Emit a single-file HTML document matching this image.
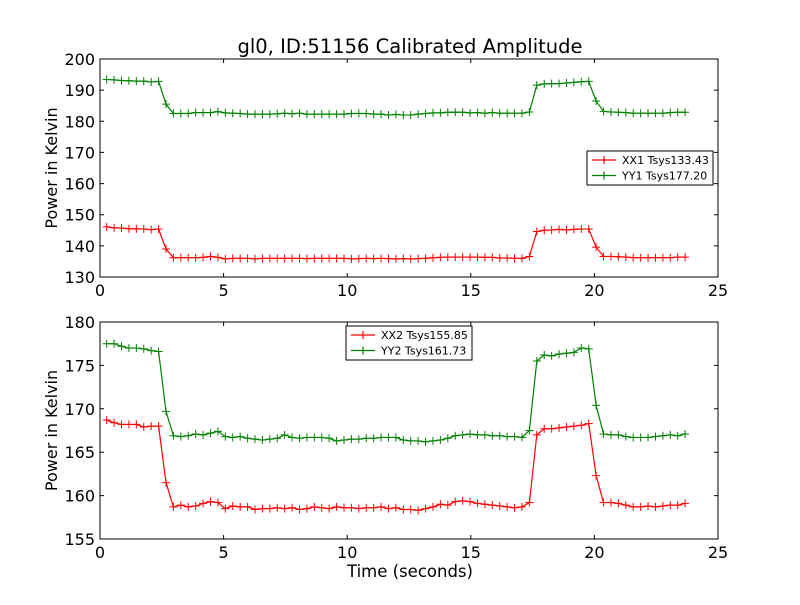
<!DOCTYPE html>
<html><head><meta charset="utf-8"><style>
body{margin:0;background:#fff;}
svg text{font-family:"DejaVu Sans","Liberation Sans",sans-serif;}
</style></head><body>
<svg id="fig" width="800" height="600" xmlns="http://www.w3.org/2000/svg">
<rect width="800" height="600" fill="#fff"/>
<text x="410" y="53" font-size="19.5" text-anchor="middle">gl0, ID:51156 Calibrated Amplitude</text>
<text x="410" y="577" font-size="16.5" text-anchor="middle">Time (seconds)</text>
</svg>
<script>
const t0 = 0.27, dt = 0.3;
const yy1 = [193.4,193.3,193.1,193.0,192.9,192.9,192.6,192.8,185.5,
182.5,182.5,182.5,182.8,182.8,182.8,183.1,182.7,182.6,182.5,182.3,182.3,182.3,182.3,182.4,182.6,182.4,182.6,182.3,182.3,182.3,182.3,182.3,182.3,182.5,182.5,182.5,182.3,182.3,182.0,182.2,182.0,182.0,182.3,182.5,182.7,182.7,182.9,182.9,182.9,182.7,182.8,182.6,182.8,182.6,182.6,182.6,182.6,183.0,
191.6,192.0,192.1,192.1,192.3,192.5,192.7,192.8,186.5,
183.2,183.0,182.9,182.8,182.6,182.6,182.6,182.6,182.6,182.8,182.9,182.9];
const xx1 = [146.1,145.8,145.7,145.5,145.5,145.4,145.2,145.4,139.0,
136.2,136.2,136.2,136.2,136.3,136.6,136.3,135.8,136.0,136.0,136.0,135.8,136.0,136.0,136.0,136.0,136.0,136.0,135.9,136.0,136.0,136.0,136.0,136.0,135.8,135.9,136.0,135.9,136.0,135.9,135.8,135.9,135.8,135.9,136.0,136.2,136.3,136.4,136.4,136.4,136.4,136.4,136.3,136.3,136.1,136.1,136.0,136.0,136.6,
144.6,145.0,145.1,145.3,145.1,145.3,145.4,145.4,139.6,
136.6,136.6,136.5,136.4,136.2,136.2,136.2,136.2,136.2,136.2,136.4,136.4];
const yy2 = [177.5,177.5,177.2,177.0,177.0,176.9,176.7,176.6,169.7,
166.9,166.8,166.9,167.1,167.0,167.2,167.4,166.8,166.7,166.8,166.6,166.5,166.4,166.5,166.6,167.0,166.7,166.6,166.7,166.7,166.7,166.6,166.3,166.4,166.5,166.5,166.6,166.6,166.7,166.7,166.7,166.4,166.3,166.3,166.2,166.3,166.4,166.6,166.9,167.0,167.1,167.0,167.0,166.9,166.9,166.8,166.8,166.7,167.5,
175.5,176.2,176.1,176.3,176.4,176.5,177.0,176.9,170.4,
167.1,167.0,167.0,166.8,166.7,166.7,166.7,166.8,166.9,167.0,166.9,167.1];
const xx2 = [168.7,168.4,168.2,168.2,168.2,167.9,168.0,168.0,161.5,
158.7,158.9,158.7,158.8,159.1,159.3,159.2,158.5,158.8,158.7,158.7,158.4,158.5,158.5,158.6,158.5,158.6,158.4,158.5,158.7,158.6,158.5,158.7,158.6,158.6,158.5,158.6,158.6,158.7,158.5,158.6,158.4,158.4,158.3,158.5,158.7,159.0,158.9,159.3,159.4,159.3,159.1,159.0,158.9,158.8,158.7,158.6,158.7,159.2,
167.0,167.7,167.7,167.8,167.9,168.0,168.1,168.3,162.3,
159.2,159.2,159.1,158.9,158.7,158.7,158.8,158.7,158.8,158.9,158.9,159.1];
const xTicks = [0,5,10,15,20,25];
const yTicksTop = [130,140,150,160,170,180,190,200];
const yTicksBot = [155,160,165,170,175,180];
const legendTop = ["XX1 Tsys133.43","YY1 Tsys177.20"];
const legendBot = ["XX2 Tsys155.85","YY2 Tsys161.73"];

const NS = "http://www.w3.org/2000/svg";
const svg = document.getElementById("fig");
function mk(tag, attrs, parent){const e=document.createElementNS(NS,tag);for(const k in attrs)e.setAttribute(k,attrs[k]);(parent||svg).appendChild(e);return e;}

function panel(name, top, bot, ymin, ymax, yTicks, series, colors, legend, lx, ly){
  const L=100,R=718;
  const g=mk("g",{});
  
  
  const sx=v=>L+(v-0)/(25-0)*(R-L);
  const sy=v=>bot-(v-ymin)/(ymax-ymin)*(bot-top);
  series.forEach((arr,si)=>{
    const pts=arr.map((v,i)=>[sx(t0+dt*i),sy(v)]);
    const pl=mk("polyline",{points:pts.map(p=>p.join(",")).join(" "),fill:"none",stroke:colors[si],"stroke-width":1.2},g);
    
    
    pts.forEach(p=>{
      const m=mk("path",{d:`M${p[0]-4},${p[1]}h8M${p[0]},${p[1]-4}v8`,stroke:colors[si],"stroke-width":1},g);
      
      
    });
  });
  const fr=mk("rect",{x:L,y:top,width:R-L,height:bot-top,fill:"none",stroke:"#000","stroke-width":1},g);
  
  
  xTicks.forEach(v=>{
    const x=sx(v);
    mk("path",{d:`M${x},${bot}v-4M${x},${top}v4`,stroke:"#000"},g);
    const t=mk("text",{x:x,y:bot+19,"font-size":16,"text-anchor":"middle"},g);
    t.textContent=v;
    
    
  });
  yTicks.forEach(v=>{
    const y=sy(v);
    mk("path",{d:`M${L},${y}h4M${R},${y}h-4`,stroke:"#000"},g);
    const t=mk("text",{x:L-5,y:y+6,"font-size":16,"text-anchor":"end"},g);
    t.textContent=v;
    
    
  });
  const yl=mk("text",{x:57,y:(top+bot)/2,"font-size":16,"text-anchor":"middle",transform:`rotate(-90 57 ${(top+bot)/2})`},g);
  yl.textContent="Power in Kelvin";
  
  
  const lg=mk("g",{},g);
  
  
  mk("rect",{x:lx,y:ly,width:126,height:34,fill:"#fff",stroke:"#000","stroke-width":1},lg);
  legend.forEach((s,i)=>{
    const yy=ly+9+i*15.5;
    const e=mk("g",{},lg);
    
    
    mk("path",{d:`M${lx+5},${yy}h24M${lx+17},${yy-4}v8`,stroke:colors[i],"stroke-width":1.2},e);
    const t=mk("text",{x:lx+35,y:yy+4,"font-size":11},e);
    t.textContent=s;
  });
}
panel("top-panel",59,277,130,200,yTicksTop,[xx1,yy1],["#ff0000","#008000"],legendTop,587,151);
panel("bottom-panel",322,539,155,180,yTicksBot,[xx2,yy2],["#ff0000","#008000"],legendBot,346,326);
</script>
</body></html>
